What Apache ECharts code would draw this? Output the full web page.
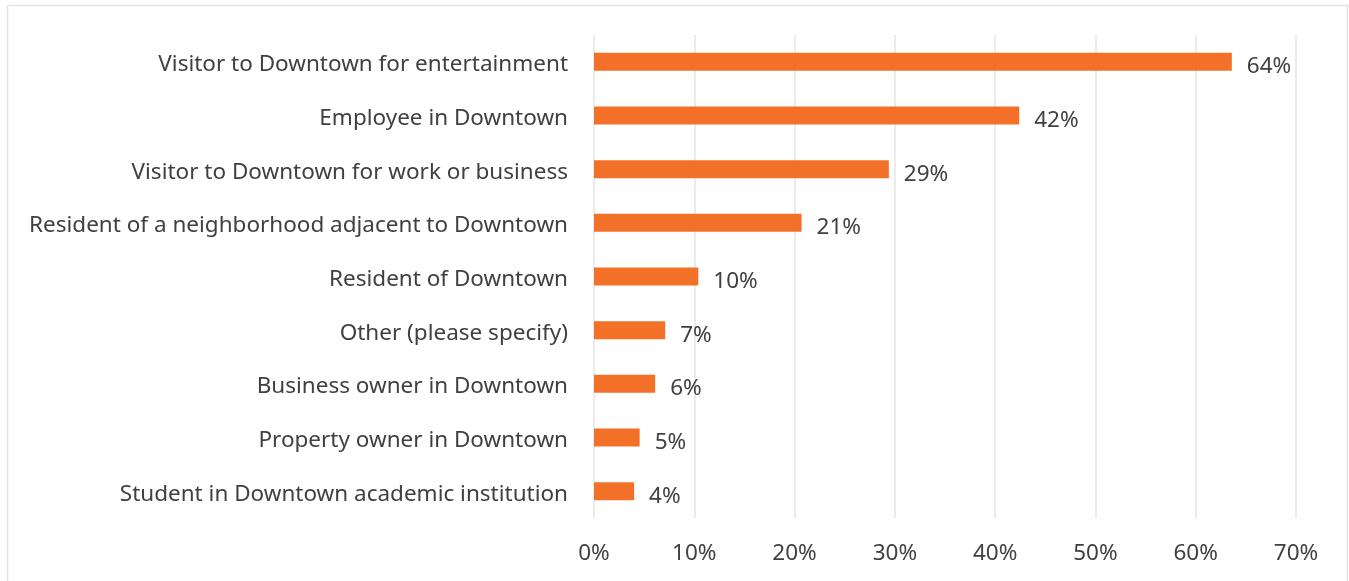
<!DOCTYPE html>
<html>
<head>
<meta charset="utf-8">
<script src="https://cdn.jsdelivr.net/npm/echarts@6/dist/echarts.min.js"></script>
<style>
html,body{margin:0;padding:0;background:#fff;}
#c{width:1349px;height:581px;}
</style>
</head>
<body>
<div id="c"></div>
<script>
var categories = [
  "Visitor to Downtown for entertainment",
  "Employee in Downtown",
  "Visitor to Downtown for work or business",
  "Resident of a neighborhood adjacent to Downtown",
  "Resident of Downtown",
  "Other (please specify)",
  "Business owner in Downtown",
  "Property owner in Downtown",
  "Student in Downtown academic institution"
];
var values = [63.6, 42.4, 29.4, 20.7, 10.4, 7.1, 6.1, 4.55, 4.0];
var valueLabels = ["64%", "42%", "29%", "21%", "10%", "7%", "6%", "5%", "4%"];
var xTicks = [0, 10, 20, 30, 40, 50, 60, 70];

var FONT = "'Noto Sans', 'Open Sans', sans-serif";
var chart = echarts.init(document.getElementById('c'), null, {renderer: 'canvas'});
chart.setOption({
  animation: false,
  backgroundColor: '#ffffff',
  graphic: [{
    type: 'rect',
    shape: {x: 7.5, y: 5.5, width: 1340, height: 590},
    style: {fill: 'none', stroke: '#e3e3e3', lineWidth: 1.5},
    silent: true
  }],
  grid: {left: 594, right: 53, top: 35, bottom: 63, containLabel: false},
  xAxis: {
    type: 'value',
    min: xTicks[0],
    max: xTicks[xTicks.length - 1],
    interval: 10,
    axisLine: {show: false},
    axisTick: {show: false},
    splitLine: {show: true, lineStyle: {color: '#e4e4e4', width: 1.5}},
    axisLabel: {
      formatter: '{value}%',
      color: '#404040',
      fontSize: 22.5,
      fontFamily: FONT,
      margin: 24
    }
  },
  yAxis: {
    type: 'category',
    data: categories,
    inverse: true,
    axisLine: {show: false},
    axisTick: {show: false},
    splitLine: {show: false},
    axisLabel: {
      color: '#404040',
      fontSize: 22.5,
      fontFamily: FONT,
      margin: 26,
      formatter: '{t|{value}}',
      rich: {
        t: {
          color: '#404040',
          fontSize: 22.5,
          fontFamily: FONT,
          padding: [6, 0, 0, 0]
        }
      }
    }
  },
  series: [{
    type: 'bar',
    data: values,
    barWidth: 18,
    itemStyle: {color: '#F37029'},
    label: {
      show: true,
      position: 'right',
      distance: 15,
      offset: [0, 5],
      color: '#404040',
      fontSize: 22.5,
      fontFamily: FONT,
      formatter: function (p) { return valueLabels[p.dataIndex]; }
    }
  }]
});
</script>
</body>
</html>
